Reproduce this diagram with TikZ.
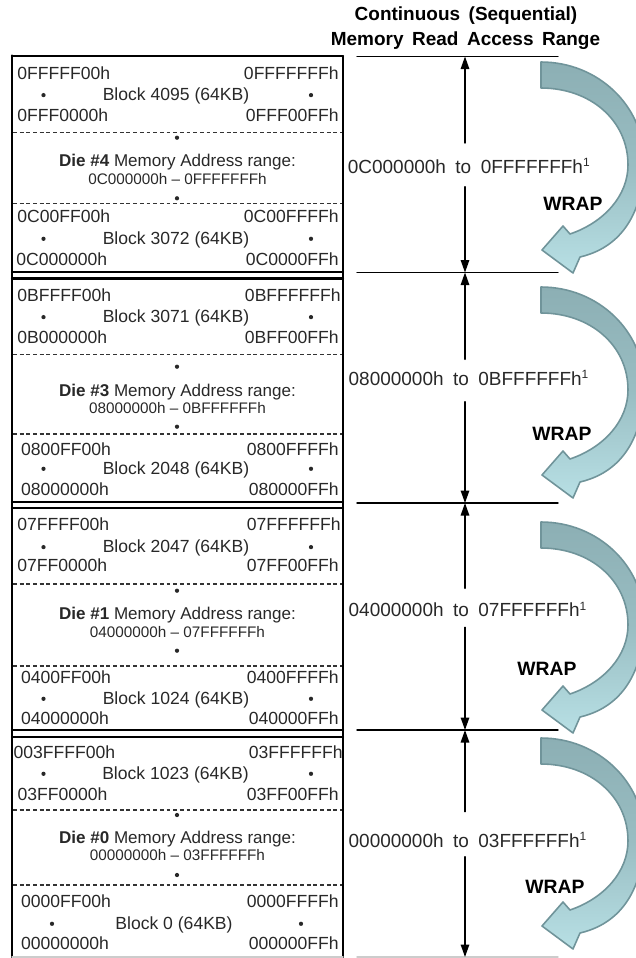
\documentclass[tikz,border=0pt]{standalone}
\usepackage{fontspec}
\setmainfont{Liberation Sans}
\usetikzlibrary{arrows.meta}
\definecolor{wraptop}{RGB}{140,175,180}
\definecolor{wrapbot}{RGB}{184,224,229}
\definecolor{wrapedge}{RGB}{112,148,154}
\definecolor{inkgray}{RGB}{40,40,40}
\newcommand{\footmark}{\raisebox{3.6pt}{\fontsize{6.8}{7}\selectfont 1}}

\tikzset{
  wrap/.pic={
    \path[top color=wraptop,bottom color=wrapbot,middle color=wraptop!70!wrapbot,
          draw=wrapedge,line width=0.9pt,line join=round]
      (0,0) .. controls (57,0) and (103,44) .. (103,98)
      .. controls (103,143) and (86,184) .. (39,195)
      -- (32,211) -- (1,188) -- (22,164) -- (29,172)
      .. controls (64,160) and (87,133) .. (87,103)
      .. controls (87,58) and (49,26) .. (0,26) -- cycle;
  }
}

\begin{document}
\begin{tikzpicture}[x=0.02cm,y=-0.02cm,line cap=round,line join=round,
  addrl/.style={anchor=base west,inner sep=0pt,font=\fontsize{10}{12}\selectfont,text=inkgray},
  addrr/.style={anchor=base east,inner sep=0pt,font=\fontsize{10}{12}\selectfont,text=inkgray},
  blk/.style={anchor=base,inner sep=0pt,font=\fontsize{10}{12}\selectfont,text=inkgray},
  dielbl/.style={anchor=base,inner sep=0pt,font=\fontsize{9.7}{12}\selectfont,text=inkgray},
  rnglbl/.style={anchor=base,inner sep=0pt,font=\fontsize{8.7}{10}\selectfont,text=inkgray},
  dotmark/.style={circle,fill=inkgray,inner sep=0pt,minimum size=0.085cm},
  cutline/.style={dash pattern=on 2.2pt off 1.6pt,line cap=butt,line width=0.6pt,draw=black!80},
  boxline/.style={line width=1.3pt},
  spanlbl/.style={anchor=base west,inner sep=0pt,text=inkgray,
    font={\fontsize{10.8}{13}\selectfont\spaceskip=0.5em\relax}},
  wraptxt/.style={anchor=base,inner sep=0pt,font=\fontsize{11}{13}\selectfont\bfseries},
  ttl/.style={anchor=base,inner sep=0pt,
    font={\fontsize{10.8}{13}\selectfont\bfseries\spaceskip=0.45em\relax}},
  rangetip/.style={-{Triangle[length=2.5mm,width=1.7mm]},line width=0.8pt},
  rangeline/.style={line width=0.8pt}]
  \useasboundingbox (0,0) rectangle (636,958);

  % heading
  \node[ttl] (ttl1) at (466,20) {Continuous (Sequential)};
  \node[ttl] (ttl2) at (465.5,45) {Memory Read Access Range};

  % memory map box
  \draw[boxline] (12,56) -- (343,56);
  \draw[boxline] (12,55.4) -- (12,958);
  \draw[line width=1.1pt] (343,56) -- (343,958);
  \draw[boxline] (12,272) -- (343,272);
  \draw[boxline] (12,278.5) -- (343,278.5);
  \draw[boxline] (12,501.7) -- (343,501.7);
  \draw[boxline] (12,508.3) -- (343,508.3);
  \draw[boxline] (12,730) -- (343,730);
  \draw[boxline] (12,736.7) -- (343,736.7);
  \draw[black!20,line width=0.8pt] (12,957) -- (343,957);

  % die 4
  \node[addrl] (d4a) at (17,79) {0FFFFF00h};
  \node[addrr] (d4b) at (339,79) {0FFFFFFFh};
  \node[blk] (d4c) at (176,100.6) {Block 4095 (64KB)};
  \node[dotmark] (d4d) at (43.5,95.1) {};
  \node[dotmark] (d4e) at (311,95.1) {};
  \node[addrl] (d4f) at (17,121.7) {0FFF0000h};
  \node[addrr] (d4g) at (339,121.7) {0FFF00FFh};
  \draw[cutline] (13,132.7) -- (342,132.7);
  \node[dotmark] (d4h) at (177,137.7) {};
  \node[dielbl] (d4i) at (177.5,166.7) {\textbf{Die \#4} Memory Address range:};
  \node[rnglbl] (d4j) at (177.5,184) {0C000000h – 0FFFFFFFh};
  \node[dotmark] (d4k) at (177,198.3) {};
  \draw[cutline] (13,203.3) -- (342,203.3);
  \node[addrl] (d4l) at (17,222.7) {0C00FF00h};
  \node[addrr] (d4m) at (339,222.7) {0C00FFFFh};
  \node[blk] (d4n) at (176,244.3) {Block 3072 (64KB)};
  \node[dotmark] (d4o) at (43.5,238.8) {};
  \node[dotmark] (d4p) at (311,238.8) {};
  \node[addrl] (d4q) at (16,265) {0C000000h};
  \node[addrr] (d4r) at (339,265) {0C0000FFh};

  % die 3
  \node[addrl] (d3a) at (17,301) {0BFFFF00h};
  \node[addrr] (d3b) at (341,301) {0BFFFFFFh};
  \node[blk] (d3c) at (176,322.6) {Block 3071 (64KB)};
  \node[dotmark] (d3d) at (43.5,317.1) {};
  \node[dotmark] (d3e) at (311,317.1) {};
  \node[addrl] (d3f) at (17,343) {0B000000h};
  \node[addrr] (d3g) at (339,343) {0BFF00FFh};
  \draw[cutline] (13,354.3) -- (342,354.3);
  \node[dotmark] (d3h) at (177,366.7) {};
  \node[dielbl] (d3i) at (177.5,396.7) {\textbf{Die \#3} Memory Address range:};
  \node[rnglbl] (d3j) at (177.5,413.3) {08000000h – 0BFFFFFFh};
  \node[dotmark] (d3k) at (177,426.7) {};
  \draw[cutline] (13,434) -- (342,434);
  \node[addrl] (d3l) at (20.7,455) {0800FF00h};
  \node[addrr] (d3m) at (339,455) {0800FFFFh};
  \node[blk] (d3n) at (176,474.3) {Block 2048 (64KB)};
  \node[dotmark] (d3o) at (43.5,468.8) {};
  \node[dotmark] (d3p) at (311,468.8) {};
  \node[addrl] (d3q) at (20.7,495) {08000000h};
  \node[addrr] (d3r) at (339,495) {080000FFh};

  % die 1
  \node[addrl] (d1a) at (17,530) {07FFFF00h};
  \node[addrr] (d1b) at (341,530) {07FFFFFFh};
  \node[blk] (d1c) at (176,552.6) {Block 2047 (64KB)};
  \node[dotmark] (d1d) at (43.5,547.1) {};
  \node[dotmark] (d1e) at (311,547.1) {};
  \node[addrl] (d1f) at (17,571.7) {07FF0000h};
  \node[addrr] (d1g) at (339,571.7) {07FF00FFh};
  \draw[cutline] (13,584) -- (342,584);
  \node[dotmark] (d1h) at (177,590.7) {};
  \node[dielbl] (d1i) at (177.5,619) {\textbf{Die \#1} Memory Address range:};
  \node[rnglbl] (d1j) at (177.5,637.3) {04000000h – 07FFFFFFh};
  \node[dotmark] (d1k) at (177,650.7) {};
  \draw[cutline] (13,666) -- (342,666);
  \node[addrl] (d1l) at (20.7,683) {0400FF00h};
  \node[addrr] (d1m) at (339,683) {0400FFFFh};
  \node[blk] (d1n) at (176,704.3) {Block 1024 (64KB)};
  \node[dotmark] (d1o) at (43.5,698.8) {};
  \node[dotmark] (d1p) at (311,698.8) {};
  \node[addrl] (d1q) at (20.7,724) {04000000h};
  \node[addrr] (d1r) at (339,724) {040000FFh};

  % die 0
  \node[addrl] (d0a) at (13.3,758) {003FFFF00h};
  \node[addrr] (d0b) at (343,758) {03FFFFFFh};
  \node[blk] (d0c) at (175.5,779.3) {Block 1023 (64KB)};
  \node[dotmark] (d0d) at (43.5,773.8) {};
  \node[dotmark] (d0e) at (311,773.8) {};
  \node[addrl] (d0f) at (17.3,800.7) {03FF0000h};
  \node[addrr] (d0g) at (339,800.7) {03FF00FFh};
  \draw[cutline] (13,810) -- (342,810);
  \node[dotmark] (d0h) at (177,815) {};
  \node[dielbl] (d0i) at (177.5,843.3) {\textbf{Die \#0} Memory Address range:};
  \node[rnglbl] (d0j) at (177.5,860) {00000000h – 03FFFFFFh};
  \node[dotmark] (d0k) at (177,875) {};
  \draw[cutline] (13,885) -- (342,885);
  \node[addrl] (d0l) at (20.7,907.3) {0000FF00h};
  \node[addrr] (d0m) at (339,907.3) {0000FFFFh};
  \node[blk] (d0n) at (174,929.3) {Block 0 (64KB)};
  \node[dotmark] (d0o) at (52,923.8) {};
  \node[dotmark] (d0p) at (301,923.8) {};
  \node[addrl] (d0q) at (20.7,949.3) {00000000h};
  \node[addrr] (d0r) at (339,949.3) {000000FFh};

  % read access ranges
  \draw[rangeline] (357,56.5) -- (558,56.5);
  \draw[rangeline] (357,272.5) -- (558,272.5);
  \draw[rangeline] (357,503) -- (558,503);
  \draw[rangeline] (357,730) -- (558,730);
  \draw[black!20,line width=0.8pt] (357,957) -- (558,957);
  \coordinate (s0) at (465,56.5);
  \coordinate (s1) at (465,272.5);
  \coordinate (s2) at (465,503);
  \coordinate (s3) at (465,730);
  \coordinate (s4) at (465,957);

  \node[spanlbl] (r4) at (347.5,173.3) {0C000000h to 0FFFFFFFh\footmark};
  \coordinate (u4) at (465,143);
  \coordinate (w4) at (465,186.7);
  \draw[rangetip] (u4) -- (s0);
  \draw[rangetip] (w4) -- (s1);

  \node[spanlbl] (r3) at (348.3,385) {08000000h to 0BFFFFFFh\footmark};
  \coordinate (u3) at (465,359.3);
  \coordinate (w3) at (465,401.7);
  \draw[rangetip] (u3) -- (s1);
  \draw[rangetip] (w3) -- (s2);

  \node[spanlbl] (r1) at (348.3,616.7) {04000000h to 07FFFFFFh\footmark};
  \coordinate (u1) at (465,588.3);
  \coordinate (w1) at (465,627.3);
  \draw[rangetip] (u1) -- (s2);
  \draw[rangetip] (w1) -- (s3);

  \node[spanlbl] (r0) at (348.3,847) {00000000h to 03FFFFFFh\footmark};
  \coordinate (u0) at (465,811.7);
  \coordinate (w0) at (465,856.7);
  \draw[rangetip] (u0) -- (s3);
  \draw[rangetip] (w0) -- (s4);

  % wrap arrows
  \begin{scope}
    \clip (0,0) rectangle (636,958);
    \pic at (541,62) {wrap};
    \pic at (541,287) {wrap};
    \pic at (541,522) {wrap};
    \pic at (541,738) {wrap};
  \end{scope}
  \node[wraptxt] (wr4) at (573,210.7) {WRAP};
  \node[wraptxt] (wr3) at (562,440) {WRAP};
  \node[wraptxt] (wr1) at (547,675) {WRAP};
  \node[wraptxt] (wr0) at (555,893) {WRAP};
\end{tikzpicture}
\end{document}
